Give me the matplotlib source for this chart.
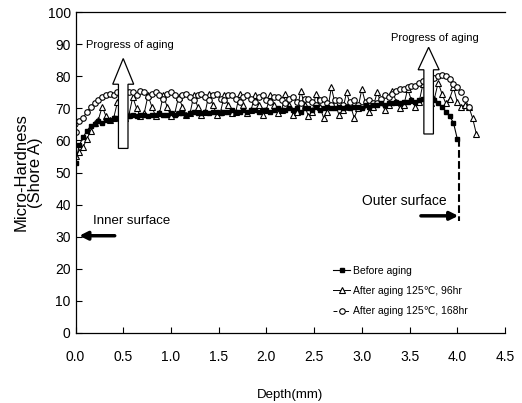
import numpy as np
import matplotlib
matplotlib.use('Agg')
import matplotlib.pyplot as plt

plt.rcParams['font.family'] = ['Liberation Sans', 'DejaVu Sans']

# Depth sampled every 0.04 mm
step = 0.04

before = [53, 58.5, 61, 63, 64.5, 65, 66, 65.5, 66.5, 66.5,
          67, 67, 67.5, 67, 67.5, 68, 67.5, 68, 68, 67.5,
          68, 68, 68.5, 68, 68, 68.5, 68, 68.5, 68.5, 68,
          68.5, 69, 68.5, 68.5, 69, 68.5, 69, 69, 68.5, 69,
          69, 69.5, 69, 69, 69.5, 69, 69.5, 69.5, 69, 69.5,
          69.5, 69, 69.5, 70, 69.5, 69.5, 70, 69.5, 70, 69,
          70, 70, 69.5, 70.5, 69.5, 70, 70.5, 70, 70, 70.5,
          70, 70.5, 70, 70.5, 70.5, 70, 71, 70.5, 71, 71,
          71.5, 71, 71.5, 71.5, 72, 71.5, 72, 72, 72.5, 72,
          72.5, 73, 72.5, 73, 72.5, 71.5, 70.5, 69, 67.5, 65.5,
          60.5]

aged_96 = [55, 56.5, 58, 60.5, 63, 65.5, 66.5, 70.5, 67.5, 66.5,
           67, 72, 69, 67, 68, 73.5, 70, 67.5, 68.5, 74,
           70.5, 67.5, 68.5, 74, 70.5, 67.5, 68.5, 73.5, 70.5, 68,
           68.5, 74, 70.5, 68, 69, 74.5, 71, 68, 69, 74,
           71, 68.5, 69, 74.5, 71, 68.5, 69.5, 74, 71, 68,
           69.5, 74, 71, 68.5, 69.5, 74.5, 71, 68, 69, 75.5,
           71, 67.5, 69, 74.5, 70.5, 67, 69, 76.5, 71.5, 68,
           69.5, 75, 71, 67, 70, 76, 71.5, 69, 70.5, 75,
           72, 69.5, 71, 75.5, 72, 70, 71, 76, 72.5, 70.5,
           72, 77.5, 74, 71.5, 73, 78, 74.5, 71.5, 73, 76.5,
           72, 70.5, 71, 70.5, 67, 62]

aged_168 = [62.5, 66, 67, 69, 70.5, 71.5, 72.5, 73.5, 74, 74.5,
            74, 75, 75, 75.5, 75, 75, 74, 75.5, 75, 73.5,
            74.5, 75, 74, 73, 74.5, 75, 74, 73, 74, 74.5,
            73.5, 72.5, 74, 74.5, 73.5, 72.5, 74, 74.5, 73, 72.5,
            74, 74, 73, 72, 73.5, 74, 73, 72, 73.5, 74,
            72.5, 72, 73.5, 73.5, 72.5, 71.5, 73, 73.5, 72, 71.5,
            73, 73, 72, 71, 72.5, 73, 71.5, 71, 72.5, 72.5,
            71, 70.5, 72, 72.5, 71, 70.5, 72, 72.5, 71.5, 71.5,
            73, 74, 73.5, 74.5, 75.5, 76, 76, 76.5, 77, 77,
            78, 78.5, 79, 79, 79.5, 80, 80.5, 80, 79, 77.5,
            76.5, 75, 73, 70.5]

labels = ['Before aging', 'After aging 125\u2103, 96hr', 'After aging 125\u2103, 168hr']

x_before = np.arange(len(before)) * step
x_96 = np.arange(len(aged_96)) * step
x_168 = np.arange(len(aged_168)) * step

fig = plt.figure(figsize=(5.22, 4.03), dpi=100)
ax = fig.add_axes([75.5 / 522, 1 - 333 / 403, (505 - 75.5) / 522, (333 - 12) / 403])

ax.plot(x_before, before, '-', color='black', lw=0.8, marker='s', ms=3.0,
        mfc='black', mec='black', label=labels[0], zorder=3)
ax.plot(x_96, aged_96, '-', color='black', lw=0.7, marker='^', ms=4.0,
        mfc='white', mec='black', mew=0.8, label=labels[1], zorder=2)
ax.plot(x_168, aged_168, linestyle=(0, (4, 2)), color='black', lw=0.7, marker='o', ms=4.0,
        mfc='white', mec='black', mew=0.8, label=labels[2], zorder=2)

# hollow "progress of aging" arrows
ax.arrow(0.50, 57.5, 0, 28, width=0.1, head_width=0.22, head_length=8,
         length_includes_head=True, fc='white', ec='black', lw=0.9, zorder=5)
ax.arrow(3.70, 62, 0, 27, width=0.1, head_width=0.22, head_length=7,
         length_includes_head=True, fc='white', ec='black', lw=0.9, zorder=5)
ax.text(0.57, 89.7, 'Progress of aging', ha='center', va='center', fontsize=8)
ax.text(3.77, 92, 'Progress of aging', ha='center', va='center', fontsize=8)

# surfaces
ax.plot([4.02, 4.02], [60.5, 35], linestyle='--', color='black', lw=1.5)
ax.annotate('', xy=(0.01, 30.3), xytext=(0.44, 30.3),
            arrowprops=dict(arrowstyle='-|>', color='black', lw=2.5, mutation_scale=12))
ax.annotate('', xy=(4.04, 36.5), xytext=(3.59, 36.5),
            arrowprops=dict(arrowstyle='-|>', color='black', lw=2.5, mutation_scale=12))
ax.text(0.18, 35, 'Inner surface', ha='left', va='center', fontsize=9.5)
ax.text(3.0, 41, 'Outer surface', ha='left', va='center', fontsize=10)

ax.set_xlim(0, 4.5)
ax.set_ylim(0, 100)
ax.set_xticks(np.arange(0, 4.51, 0.5))
ax.set_yticks(np.arange(0, 101, 10))
ax.set_xticklabels(['%.1f' % v for v in np.arange(0, 4.51, 0.5)])
ax.tick_params(direction='in', length=4, labelsize=10, width=0.8)
ax.tick_params(axis='x', pad=12)
ax.spines['right'].set_visible(False)
for s in ['left', 'bottom', 'top']:
    ax.spines[s].set_linewidth(0.9)

ax.set_xlabel('Depth(mm)', fontsize=9.5, labelpad=18)
ax.set_ylabel('Micro-Hardness\n(Shore A)', fontsize=12, labelpad=3, linespacing=1.0)

ax.legend(loc='upper left', bbox_to_anchor=(0.60, 0.21), frameon=False,
          fontsize=7.5, handlelength=1.6, labelspacing=1.0, borderaxespad=0,
          handletextpad=0.3, borderpad=0)

fig.savefig('out.png', dpi=100)
